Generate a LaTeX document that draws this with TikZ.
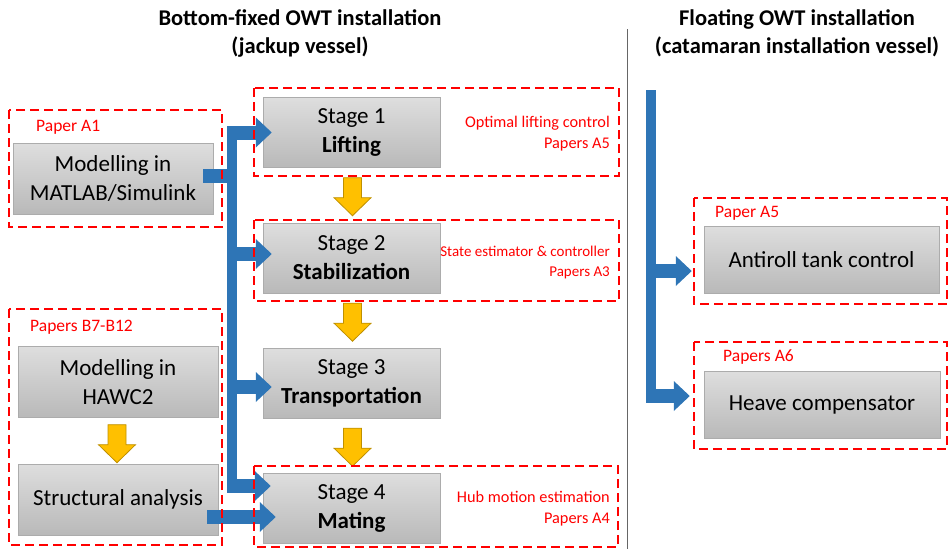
\documentclass[tikz,border=0pt]{standalone}
\usepackage{fontspec}
\setmainfont{Carlito}
\usetikzlibrary{arrows.meta,calc}

\definecolor{flowblue}{HTML}{2E75B6}
\definecolor{stepyellow}{HTML}{FFC000}
\definecolor{stepedge}{HTML}{BF9000}
\definecolor{paperred}{HTML}{FF0000}

\tikzset{
  box/.style={draw=gray!65, top color=gray!26, bottom color=gray!55,
    minimum width=200pt, minimum height=71pt, inner sep=0pt,
    align=center, font=\fontsize{23}{29}\selectfont},
  stagebox/.style={box, minimum width=177pt, minimum height=70pt},
  title/.style={align=center, inner sep=0pt, font=\bfseries\fontsize{22.5}{28}\selectfont},
  paper/.style={text=paperred, inner sep=0pt, font=\fontsize{17.5}{20}\selectfont},
  note/.style={text=paperred, inner sep=0pt, align=right, font=\fontsize{16.3}{21}\selectfont},
  redframe/.style={draw=paperred, line width=1.4pt, dash pattern=on 9pt off 5pt},
  trunk/.style={draw=flowblue, line width=10pt},
  flow/.style={draw=flowblue, line width=14pt, -{Triangle[width=29pt,length=16pt]}},
  downstep/.pic={
    \draw[draw=stepedge, fill=stepyellow, line width=0.8pt]
      (-9,0) -- (9,0) -- (9,20) -- (18.5,20) -- (0,38) -- (-18.5,20) -- (-9,20) -- cycle;
  }
}

\begin{document}
\begin{tikzpicture}[x=1pt, y=-1pt]
    \useasboundingbox (0,0) rectangle (949,549);

    % headings and separator
    \node[title] (tfix) at (300,33) {Bottom-fixed OWT installation\\(jackup vessel)};
    \node[title] (tfloat) at (797,33) {Floating OWT installation\\(catamaran installation vessel)};
    \draw[gray!80!black, line width=0.8pt] (627,29) -- (627,549);

    % modelling boxes
    \node[box] (mat) at (113,178.5) {Modelling in\\MATLAB/Simulink};
    \node[box] (hawc) at (118,382) {Modelling in\\HAWC2};
    \node[box] (struct) at (118,499.5) {Structural analysis};

    % installation stages
    \node[stagebox] (s1) at (351.5,132.5) {Stage 1\\\textbf{Lifting}};
    \node[stagebox] (s2) at (351.5,258) {Stage 2\\\textbf{Stabilization}};
    \node[stagebox] (s3) at (351.5,383) {Stage 3\\\textbf{Transportation}};
    \node[stagebox] (s4) at (351.5,508) {Stage 4\\\textbf{Mating}};

    % floating vessel
    \node[box, minimum width=235pt, minimum height=67pt] (anti) at (821.5,259.5) {Antiroll tank control};
    \node[box, minimum width=236pt, minimum height=67pt] (heave) at (822,404.5) {Heave compensator};

    % yellow step arrows
    \pic at ($(s1.south)+(1,10)$) {downstep};
    \pic at ($(s2.south)+(1,10)$) {downstep};
    \pic at ($(s3.south)+(1,10)$) {downstep};
    \pic at ($(hawc.south)+(-1,7)$) {downstep};

    % blue flow, bottom-fixed
    \coordinate (jt) at (232,126);
    \coordinate (jb) at (232,493);
    \draw[trunk] (jt) -- (jb);
    \draw[draw=flowblue, line width=14pt] ($(mat.east)+(-10,-2.5)$) -- ($(mat.east -| jt)+(5,-2.5)$);
    \draw[flow] (s1.west -| jt) -- ($(s1.west)+(9,0)$);
    \draw[flow] ($(s2.west -| jt)+(0,-4)$) -- ($(s2.west)+(9,-4)$);
    \draw[flow] ($(s3.west -| jt)+(0,4)$) -- ($(s3.west)+(9,4)$);
    \draw[flow] ($(s4.west -| jt)+(0,-22)$) -- ($(s4.west)+(8,-22)$);
    \draw[flow] ($(struct.east)+(-11,17.5)$) -- ($(s4.west)+(13,9)$);

    % blue flow, floating
    \coordinate (rt) at (651,90);
    \coordinate (rb) at (651,403);
    \draw[trunk] (rt) -- (rb);
    \draw[flow] ($(anti.west -| rt)+(0,11.5)$) -- ($(anti.west)+(-12,11.5)$);
    \draw[flow] ($(heave.west -| rt)+(0,-8.5)$) -- ($(heave.west)+(-14,-8.5)$);

    % paper frames
    \draw[redframe] (9,110) rectangle (222,227);
    \draw[redframe] (9,309) rectangle (222,545);
    \draw[redframe] (254,88) rectangle (619,176);
    \draw[redframe] (254,220) rectangle (619,301);
    \draw[redframe] (254,466) rectangle (618,547);
    \draw[redframe] (694,198) rectangle (947,304);
    \draw[redframe] (694,342) rectangle (947,449);

    \node[paper, anchor=west] (pA1) at (36,127) {Paper A1};
    \node[paper, anchor=west] (pB) at (30,327) {Papers B7-B12};
    \node[paper, anchor=west] (pA5) at (715,213) {Paper A5};
    \node[paper, anchor=west] (pA6) at (723,357) {Papers A6};
    \node[note, anchor=east] (n1) at (610,133.5) {Optimal lifting control\\Papers A5};
    \node[note, anchor=east, font=\fontsize{15}{20}\selectfont] (n2) at (610,262) {State estimator \& controller\\Papers A3};
    \node[note, anchor=east] (n4) at (610,508.5) {Hub motion estimation\\Papers A4};
\end{tikzpicture}
\end{document}
